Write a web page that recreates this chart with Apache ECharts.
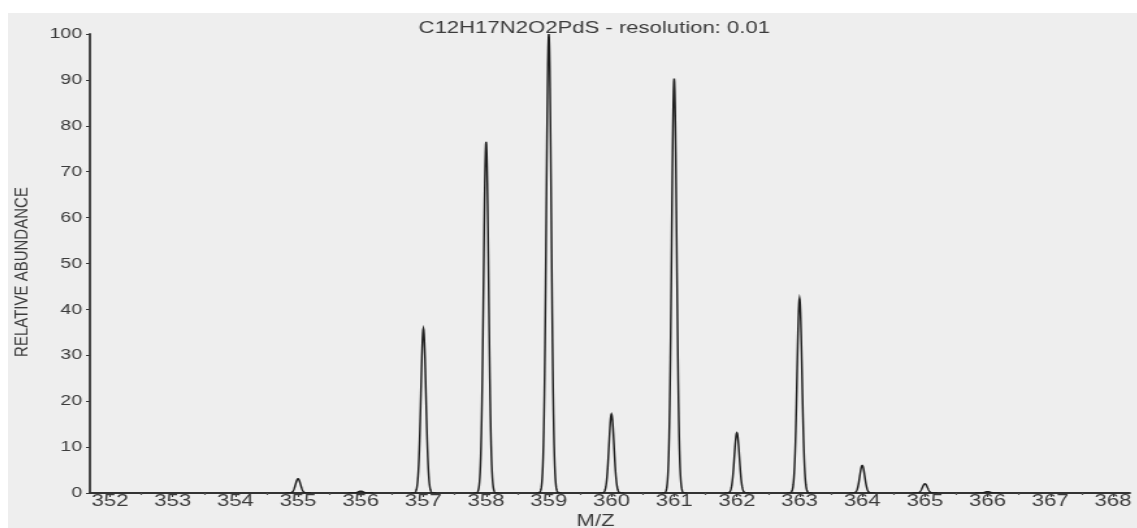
<!DOCTYPE html>
<html>
<head>
<meta charset="utf-8">
<script src="https://cdn.jsdelivr.net/npm/echarts@6/dist/echarts.min.js"></script>
<style>
  html, body { margin: 0; padding: 0; background: #fff; }
  /* the reference is stretched sideways, so the chart is drawn narrow and scaled in x */
  .frame {
    position: absolute; left: 8px; top: 13px;
    width: 1129px; height: 515px;
    background: #eeeeee; overflow: hidden;
  }
  #chart {
    width: 868px; height: 515px;
    transform: scaleX(1.3); transform-origin: 0 0;
  }
</style>
</head>
<body>
<div class="frame"><div id="chart"></div></div>
<script>
// isotope peaks (m/z, relative abundance)
const peakMz = [355, 356, 357, 358, 359, 360, 361, 362, 363, 364, 365, 366]
const peakAbundance = [3.1, 0.4, 35.8, 76.5, 100, 17.2, 90.3, 13.1, 42.4, 6.0, 2.0, 0.3]

const xTickValues = [352, 353, 354, 355, 356, 357, 358, 359, 360, 361, 362, 363, 364, 365, 366, 367, 368]
const xHalfTicks = [352.5, 353.5, 354.5, 355.5, 356.5, 357.5, 358.5, 359.5, 360.5, 361.5, 362.5, 363.5, 364.5, 365.5, 366.5, 367.5]

const TITLE = 'C12H17N2O2PdS - resolution: 0.01'
const FONT = 'Liberation Sans, Arial, sans-serif'
const TEXT_COLOR = '#3c3c3c'
const SIGMA = 0.04   // peak width in m/z units
const X_MIN = 351.68
const X_MAX = 368.27

const chart = echarts.init(document.getElementById('chart'))

const renderPeak = (params, api) => {
  const mz = api.value(0)
  const h = api.value(1)
  const pts = []
  for (let k = -40; k <= 40; k++) {
    const dx = k * 0.005
    pts.push(api.coord([mz + dx, h * Math.exp(-dx * dx / (2 * SIGMA * SIGMA))]))
  }
  return {
    type: 'polyline',
    shape: { points: pts },
    style: { fill: 'none', stroke: '#1e1e1e', lineWidth: 1.45 }
  }
}

chart.setOption({
  backgroundColor: 'transparent',
  animation: false,
  title: {
    text: TITLE,
    left: 446,
    top: 2,
    textAlign: 'center',
    textStyle: { fontFamily: FONT, fontSize: 17, fontWeight: 'normal', color: TEXT_COLOR }
  },
  grid: {
    left: 63, right: 5, top: 21, bottom: 35,
    containLabel: false,
    outerBoundsMode: 'none'
  },
  xAxis: [
    {
      type: 'value',
      min: X_MIN,
      max: X_MAX,
      axisLine: { onZero: false, lineStyle: { color: '#333', width: 1.8 } },
      axisTick: { customValues: xTickValues, length: 4, lineStyle: { color: '#333', width: 1 } },
      axisLabel: {
        customValues: xTickValues,
        margin: 0,
        fontFamily: FONT, fontSize: 17, color: TEXT_COLOR
      },
      splitLine: { show: false }
    },
    {
      type: 'value',
      position: 'bottom',
      min: X_MIN,
      max: X_MAX,
      axisLine: { show: false },
      axisTick: { customValues: xHalfTicks, length: 2, lineStyle: { color: '#555', width: 1.2 } },
      axisLabel: { show: false },
      splitLine: { show: false }
    }
  ],
  yAxis: {
    type: 'value',
    min: 0,
    max: 100,
    interval: 10,
    axisLine: { show: true, onZero: false, lineStyle: { color: '#333', width: 1.8 } },
    axisTick: { show: true, length: 3, lineStyle: { color: '#333', width: 1 } },
    axisLabel: { margin: 6, fontFamily: FONT, fontSize: 15, color: TEXT_COLOR },
    splitLine: { show: false }
  },
  graphic: [
    {
      type: 'text',
      x: 11,
      y: 259,
      rotation: Math.PI / 2,
      style: {
        text: 'RELATIVE ABUNDANCE',
        align: 'center',
        verticalAlign: 'middle',
        font: '15px ' + FONT,
        fill: TEXT_COLOR
      }
    },
    {
      type: 'text',
      x: 452,
      y: 500,
      style: {
        text: 'M/Z',
        align: 'center',
        verticalAlign: 'top',
        font: '17px ' + FONT,
        fill: TEXT_COLOR
      }
    }
  ],
  series: [
    {
      type: 'custom',
      xAxisIndex: 0,
      clip: true,
      renderItem: renderPeak,
      encode: { x: 0, y: 1 },
      data: peakMz.map((m, i) => [m, peakAbundance[i]])
    }
  ]
})

window.addEventListener('resize', () => chart.resize())
</script>
</body>
</html>
